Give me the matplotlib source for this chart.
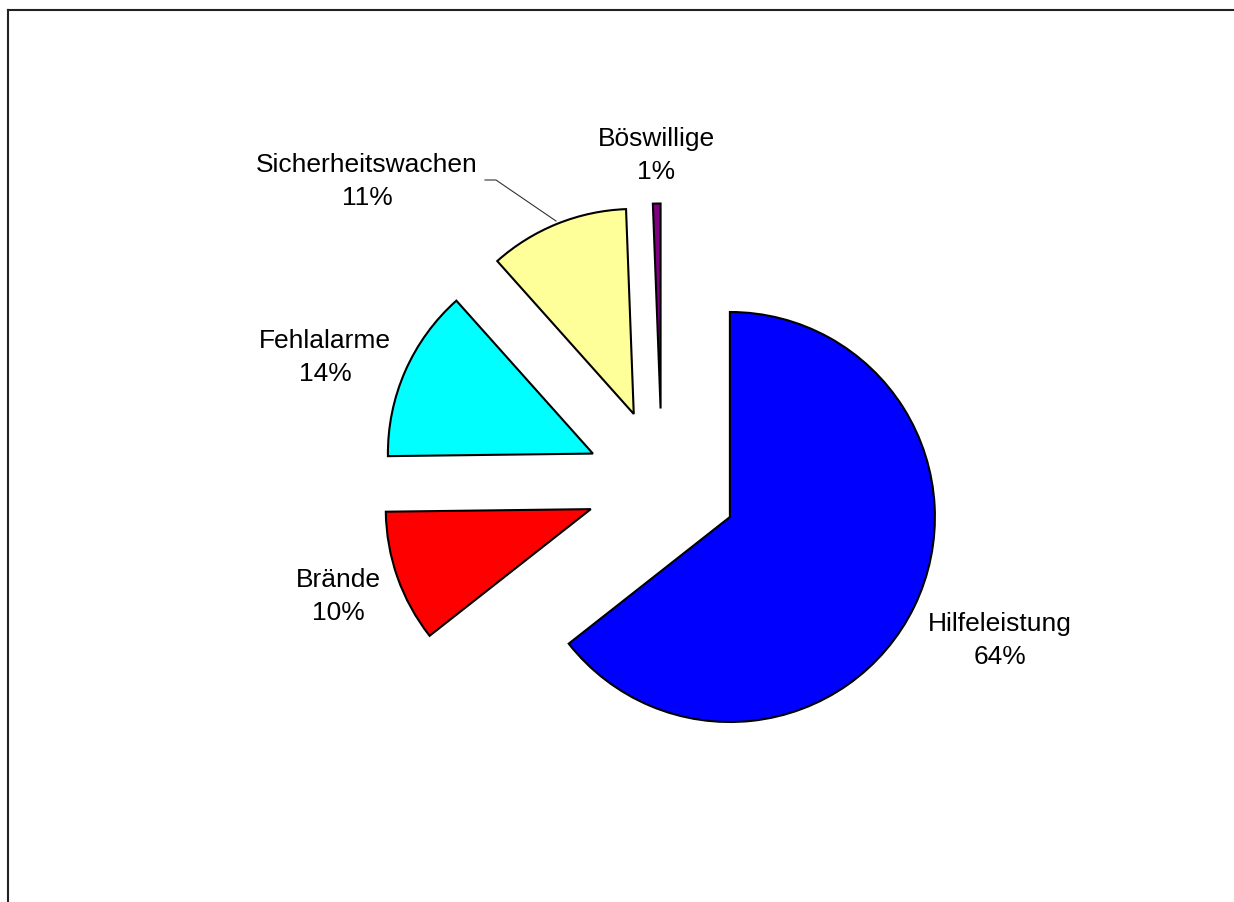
import numpy as np
import matplotlib
matplotlib.use("Agg")
import matplotlib.pyplot as plt
from matplotlib.lines import Line2D

# Einsatzarten (Anteile in %)
categories = ["Hilfeleistung", "Brände", "Fehlalarme", "Sicherheitswachen", "Böswillige"]
shares     = [64.4, 10.4, 13.6, 11.0, 0.6]
colors     = ["#0000FF", "#FF0000", "#00FFFF", "#FFFF99", "#800080"]

plt.rcParams["font.family"] = ["Liberation Sans", "DejaVu Sans"]

W, H = 1234, 903
fig = plt.figure(figsize=(W / 100, H / 100), dpi=100)
ax = fig.add_axes([0, 0, 1, 1])

# work in pixel-like units, y pointing up
cx, cy   = 662, H - 485
radius   = 205
explode  = [75.5] * len(shares)

wedges, _ = ax.pie(shares, colors=colors, explode=explode, radius=radius,
                   center=(cx, cy), startangle=90, counterclock=False,
                   wedgeprops=dict(edgecolor="black", linewidth=1.5))
ax.set_xlim(0, W)
ax.set_ylim(0, H)
ax.set_aspect("equal")
ax.axis("off")

# label positions (center x, baseline y of the name line, in pixels from the top)
label_pos = [(1000, 631), (338, 587), (325, 348), (367, 172), (656, 146)]
line_gap  = 33
fs        = 19

for name, val, (lx, ly) in zip(categories, shares, label_pos):
    ax.text(lx, H - ly, name, ha="center", va="baseline", fontsize=fs)
    ax.text(lx, H - ly - line_gap, f"{round(val)}%", ha="center", va="baseline", fontsize=fs)

# leader line for Sicherheitswachen
ax.plot([485, 496, 556], [H - 181, H - 181, H - 222], color="#333333", linewidth=0.8)

# chart area frame (open to the right/bottom like the cut-off original)
fig.add_artist(Line2D([8 / W, 8 / W], [0, 1 - 10.5 / H], transform=fig.transFigure,
                      color="#222222", linewidth=1.5))
fig.add_artist(Line2D([8 / W, 1], [1 - 10.5 / H, 1 - 10.5 / H], transform=fig.transFigure,
                      color="#222222", linewidth=1.5))

fig.savefig("out.png", dpi=100)
